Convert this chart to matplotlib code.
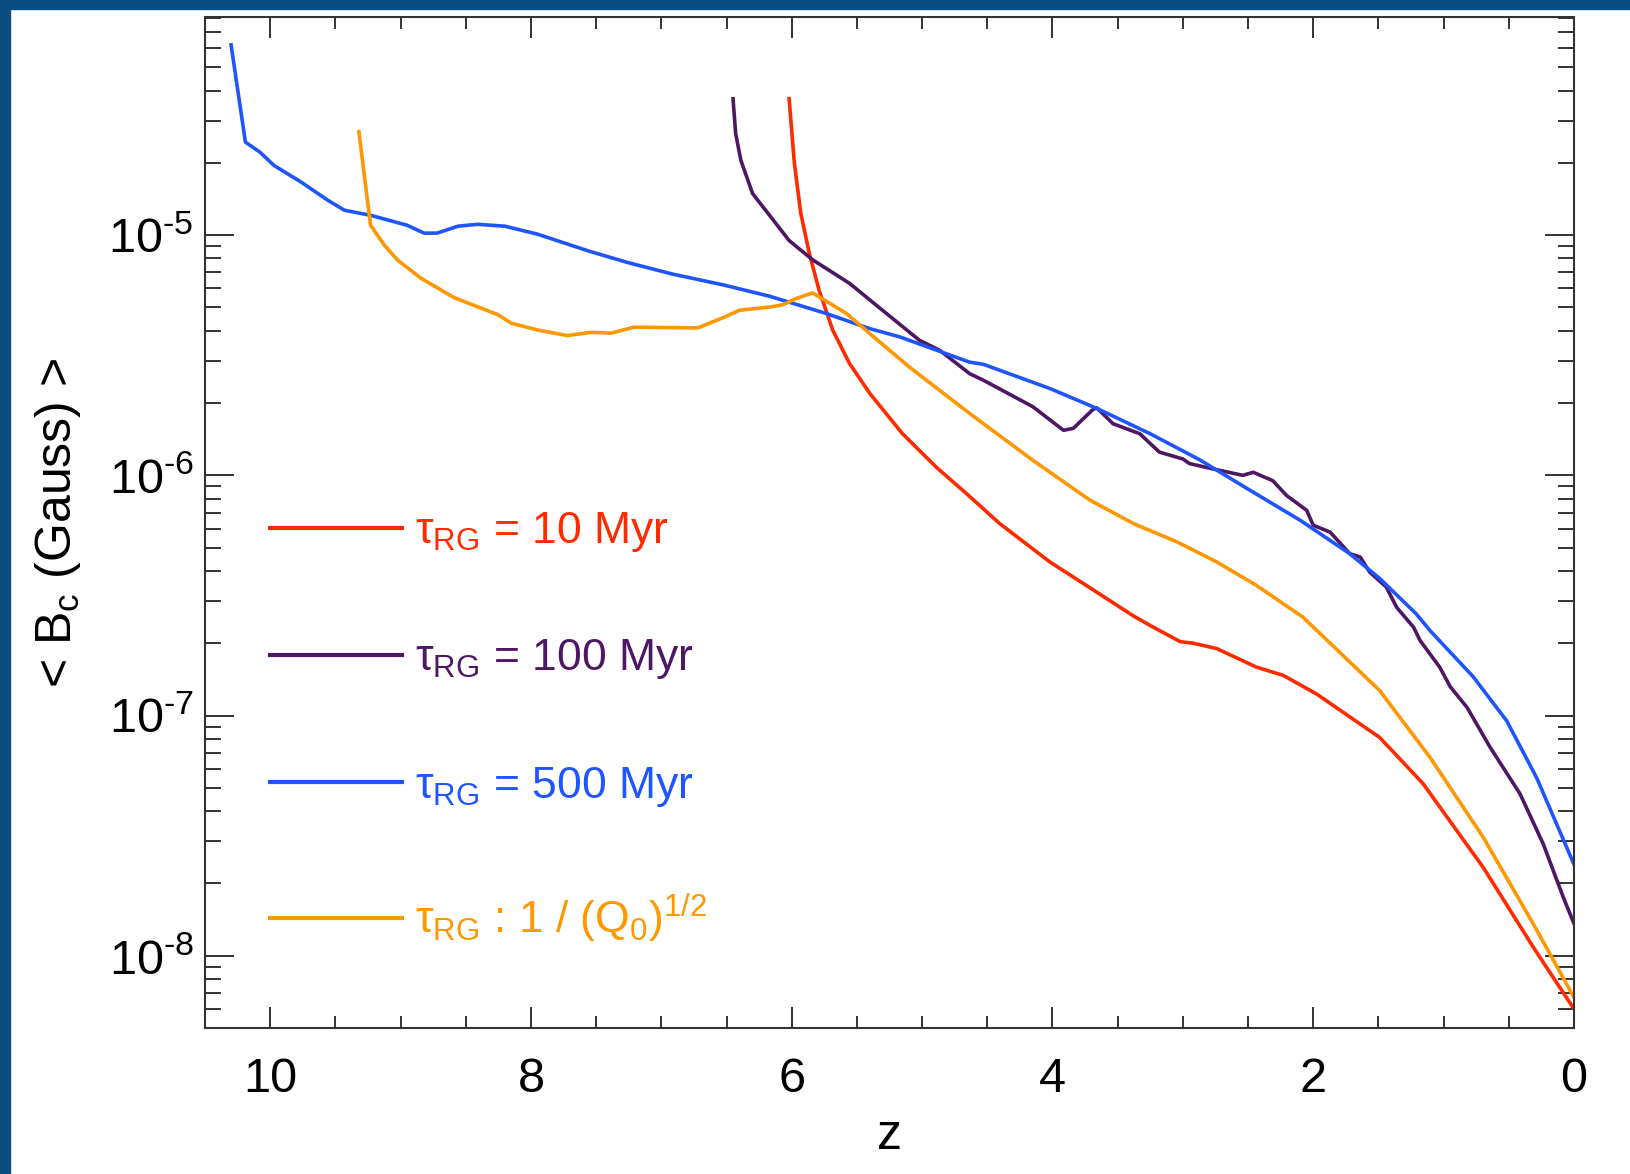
import matplotlib
matplotlib.use("Agg")
import matplotlib.pyplot as plt
from matplotlib.ticker import MultipleLocator, NullFormatter, FuncFormatter
from matplotlib.patches import Rectangle
import numpy as np

plt.rcParams['font.family'] = ['Liberation Sans', 'DejaVu Sans']
plt.rcParams['mathtext.fontset'] = 'custom'
plt.rcParams['mathtext.rm'] = 'Liberation Sans'
plt.rcParams['mathtext.it'] = 'Liberation Sans:italic'
plt.rcParams['mathtext.bf'] = 'Liberation Sans:bold'
plt.rcParams['axes.unicode_minus'] = False

# tau_RG = 10 Myr
z_10 = [6.02, 5.98, 5.93, 5.865, 5.79, 5.685, 5.556, 5.40, 5.15, 4.89, 4.66, 4.405,
        4.02, 3.64, 3.38, 3.25, 3.02, 2.92, 2.74, 2.435, 2.23, 1.975, 1.49, 1.157,
        0.82, 0.696, 0.31, 0.0]
b_10 = [3.7e-5, 2.0e-5, 1.23e-5, 8.4e-6, 5.9e-6, 4.02e-6, 2.92e-6, 2.19e-6, 1.49e-6,
        1.08e-6, 8.4e-7, 6.3e-7, 4.36e-7, 3.21e-7, 2.6e-7, 2.37e-7, 2.03e-7, 2.0e-7,
        1.9e-7, 1.59e-7, 1.47e-7, 1.23e-7, 8.1e-8, 5.2e-8, 2.89e-8, 2.33e-8,
        1.08e-8, 6.0e-9]

# tau_RG = 100 Myr
z_100 = [6.45, 6.43, 6.39, 6.30, 6.17, 6.02, 5.84, 5.556, 5.33, 5.02, 4.866, 4.635,
         4.53, 4.15, 3.915, 3.84, 3.69, 3.66, 3.535, 3.33, 3.18, 3.0, 2.95, 2.79,
         2.54, 2.46, 2.31, 2.205, 2.05, 2.0, 1.87, 1.72, 1.64, 1.566, 1.44, 1.36,
         1.23, 1.18, 1.03, 0.95, 0.82, 0.645, 0.414, 0.236, 0.082, 0.0]
b_100 = [3.7e-5, 2.65e-5, 2.05e-5, 1.49e-5, 1.21e-5, 9.5e-6, 7.9e-6, 6.3e-6, 5.0e-6,
         3.65e-6, 3.32e-6, 2.65e-6, 2.49e-6, 1.93e-6, 1.54e-6, 1.57e-6, 1.88e-6,
         1.91e-6, 1.64e-6, 1.49e-6, 1.25e-6, 1.17e-6, 1.12e-6, 1.07e-6, 1.0e-6,
         1.03e-6, 9.5e-7, 8.25e-7, 7.15e-7, 6.2e-7, 5.8e-7, 4.72e-7, 4.57e-7,
         3.95e-7, 3.43e-7, 2.82e-7, 2.33e-7, 2.05e-7, 1.59e-7, 1.32e-7, 1.08e-7,
         7.4e-8, 4.72e-8, 2.92e-8, 1.75e-8, 1.36e-8]

# tau_RG = 500 Myr
z_500 = [10.30, 10.19, 10.08, 9.97, 9.76, 9.56, 9.43, 9.23, 8.95, 8.82, 8.72, 8.56,
         8.41, 8.20, 7.95, 7.56, 7.26, 6.92, 6.52, 6.17, 5.735, 5.40, 5.17, 4.635,
         4.53, 4.02, 3.66, 3.25, 2.87, 2.49, 2.10, 1.72, 1.49, 1.21, 1.105, 0.773,
         0.516, 0.286, 0.0]
b_500 = [6.2e-5, 2.44e-5, 2.22e-5, 1.95e-5, 1.66e-5, 1.40e-5, 1.27e-5, 1.21e-5,
         1.10e-5, 1.02e-5, 1.02e-5, 1.09e-5, 1.11e-5, 1.09e-5, 1.01e-5, 8.6e-6,
         7.7e-6, 6.9e-6, 6.2e-6, 5.57e-6, 4.72e-6, 4.08e-6, 3.77e-6, 2.96e-6,
         2.9e-6, 2.30e-6, 1.90e-6, 1.49e-6, 1.16e-6, 8.7e-7, 6.5e-7, 4.72e-7,
         3.72e-7, 2.65e-7, 2.26e-7, 1.45e-7, 9.5e-8, 5.5e-8, 2.4e-8]

# tau_RG ~ 1/sqrt(Q0)
z_q = [9.32, 9.23, 9.125, 9.02, 8.84, 8.59, 8.255, 8.15, 7.95, 7.72, 7.54, 7.385,
       7.21, 6.72, 6.52, 6.40, 6.17, 6.07, 5.965, 5.84, 5.58, 5.40, 5.096, 4.635,
       4.15, 3.715, 3.38, 3.05, 2.74, 2.435, 2.08, 1.49, 1.105, 0.696, 0.31, 0.0]
b_q = [2.7e-5, 1.10e-5, 9.1e-6, 7.85e-6, 6.6e-6, 5.5e-6, 4.67e-6, 4.3e-6, 4.03e-6,
       3.82e-6, 3.94e-6, 3.91e-6, 4.14e-6, 4.11e-6, 4.55e-6, 4.87e-6, 5.02e-6,
       5.13e-6, 5.45e-6, 5.75e-6, 4.72e-6, 3.89e-6, 2.82e-6, 1.81e-6, 1.155e-6,
       7.9e-7, 6.3e-7, 5.3e-7, 4.36e-7, 3.48e-7, 2.57e-7, 1.27e-7, 6.7e-8,
       3.11e-8, 1.35e-8, 6.7e-9]

labels = [r'$\mathregular{\tau_{RG}}$ = 10 Myr',
          r'$\mathregular{\tau_{RG}}$ = 100 Myr',
          r'$\mathregular{\tau_{RG}}$ = 500 Myr',
          r'$\mathregular{\tau_{RG}}$ : 1 / (Q$\mathregular{_0}$)$\mathregular{^{1/2}}$']
colors = ['#ff2a00', '#4e1763', '#1f55ff', '#ff9700']


def pow10_label(v, pos):
    e = int(round(np.log10(v)))
    if e < 0:
        return r'$\mathregular{10^{\text{-}%d}}$' % (-e)
    return r'$\mathregular{10^{%d}}$' % e


fig = plt.figure(figsize=(16.31, 11.74), dpi=100)
# dark blue border strips (left and top)
fig.patches.append(Rectangle((0, 0), 10 / 1631, 1, transform=fig.transFigure,
                             color='#0a4d80', zorder=0))
fig.patches.append(Rectangle((0, 1 - 9 / 1174), 1, 9 / 1174, transform=fig.transFigure,
                             color='#0a4d80', zorder=0))

ax = fig.add_axes([205 / 1631, 1 - 1028 / 1174, (1574 - 205) / 1631, (1028 - 17) / 1174])

series = [(z_10, b_10), (z_100, b_100), (z_500, b_500), (z_q, b_q)]
for (zz, bb), c, lab in zip(series, colors, labels):
    ax.plot(zz, bb, color=c, lw=2.6, label=lab)

ax.set_yscale('log')
ax.set_xlim(10.5, 0)
ax.set_ylim(5e-9, 8.1e-5)
ax.xaxis.set_major_locator(MultipleLocator(2))
ax.xaxis.set_minor_locator(MultipleLocator(0.5))
ax.yaxis.set_major_formatter(FuncFormatter(pow10_label))
ax.yaxis.set_minor_formatter(NullFormatter())

ax.tick_params(which='both', direction='in', top=True, right=True, width=1.4,
               color='#333333', labelsize=35)
ax.tick_params(axis='x', which='major', length=15, pad=21)
ax.tick_params(axis='x', which='minor', length=8.5)
ax.tick_params(axis='y', which='major', length=21, pad=8)
ax.tick_params(axis='y', which='minor', length=11.5)
for s in ax.spines.values():
    s.set_linewidth(1.5)
    s.set_color('#333333')

ax.set_xlabel('z', fontsize=36, labelpad=8)
ax.set_ylabel(r'< B$_\mathregular{c}$ (Gauss) >', fontsize=36, labelpad=18)

leg = ax.legend(loc='upper left', bbox_to_anchor=(0.0475, 0.512), frameon=False,
                fontsize=32, handlelength=2.97, handletextpad=0.3, labelspacing=1.87,
                borderpad=0, borderaxespad=0, labelcolor='linecolor')
for line in leg.get_lines():
    line.set_linewidth(3)

fig.savefig('out.png', dpi=100)
